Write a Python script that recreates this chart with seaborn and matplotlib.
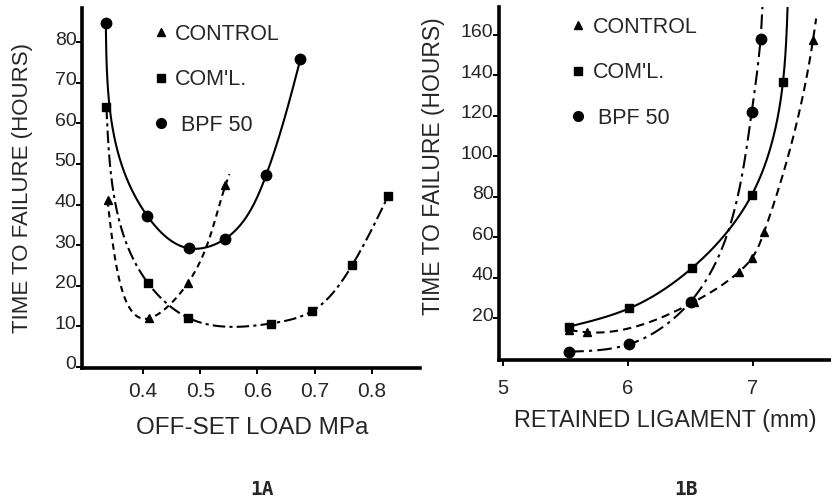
import numpy as np
import matplotlib
matplotlib.use("Agg")
import matplotlib.pyplot as plt
import matplotlib.transforms as mtransforms
from matplotlib.lines import Line2D
import seaborn as sns

# ---- data ----
# 1A : time to failure vs off-set load
load_control = [0.338, 0.411, 0.478, 0.544]
hrs_control_a = [41.0, 12.0, 20.6, 44.7]
load_coml = [0.336, 0.409, 0.479, 0.623, 0.696, 0.766, 0.828]
hrs_coml_a = [64.1, 20.6, 12.1, 10.7, 13.8, 25.2, 42.0]
load_bpf = [0.335, 0.407, 0.481, 0.544, 0.615, 0.675]
hrs_bpf_a = [84.6, 37.3, 29.2, 31.6, 47.2, 75.8]

# 1B : time to failure vs retained ligament
lig_control = [5.53, 5.67, 6.53, 6.89, 6.99, 7.09, 7.48]
hrs_control_b = [14.2, 13.1, 28.2, 43.0, 49.6, 62.8, 157.4]
lig_coml = [5.53, 6.01, 6.51, 6.99, 7.24]
hrs_coml_b = [15.9, 24.9, 44.7, 80.9, 136.8]
lig_bpf = [5.53, 6.01, 6.50, 6.99, 7.06]
hrs_bpf_b = [3.5, 7.2, 28.2, 122.0, 157.8]
# where the drawn curves run past the last point
tail_control_a = (0.551, 47.5)
tail_control_b = (7.505, 168.0)
tail_coml_b = (7.278, 176.0)
tail_bpf_b = (7.077, 176.0)

labels = ["CONTROL", "COM'L.", " BPF 50"]

XLIM_A, YLIM_A = (0.2934, 0.884), (-0.25, 88.4)
XLIM_B, YLIM_B = (4.968, 7.624), (-0.6, 173.7)


def nat_spline(t, v, ts):
    m = len(t)
    h = np.diff(t)
    A = np.zeros((m, m))
    b = np.zeros(m)
    A[0, 0] = A[-1, -1] = 1
    for i in range(1, m - 1):
        A[i, i - 1] = h[i - 1]
        A[i, i] = 2 * (h[i - 1] + h[i])
        A[i, i + 1] = h[i]
        b[i] = 3 * ((v[i + 1] - v[i]) / h[i] - (v[i] - v[i - 1]) / h[i - 1])
    c = np.linalg.solve(A, b)
    bb = (v[1:] - v[:-1]) / h - h * (2 * c[:-1] + c[1:]) / 3
    d = (c[1:] - c[:-1]) / (3 * h)
    k = np.clip(np.searchsorted(t, ts) - 1, 0, m - 2)
    dt = ts - t[k]
    return v[k] + bb[k] * dt + c[k] * dt ** 2 + d[k] * dt ** 3


def smooth(x, y, xlim, ylim, tail=None, n=400):
    # parametric spline through the read points, like the hand-drawn curves
    x = list(x)
    y = list(y)
    if tail is not None:
        x.append(tail[0])
        y.append(tail[1])
    u = (np.asarray(x) - xlim[0]) / (xlim[1] - xlim[0])
    w = (np.asarray(y) - ylim[0]) / (ylim[1] - ylim[0])
    t = np.concatenate([[0], np.cumsum(np.hypot(np.diff(u), np.diff(w)))])
    ts = np.linspace(0, t[-1], n)
    us = nat_spline(t, u, ts)
    ws = nat_spline(t, w, ts)
    return (xlim[0] + us * (xlim[1] - xlim[0]),
            ylim[0] + ws * (ylim[1] - ylim[0]))


sns.set_style("ticks")
plt.rcParams["font.family"] = ["Liberation Sans", "DejaVu Sans"]

fig = plt.figure(figsize=(8.31, 5), dpi=100)
ax1 = fig.add_axes([82 / 831, 1 - 368 / 500, 338 / 831, 360 / 500])
ax2 = fig.add_axes([499 / 831, 1 - 360 / 500, 332 / 831, 353 / 500])

lw = 1.5
st_a = {"CONTROL": (0, (3.0, 2.2)), "COM'L.": (0, (6, 2, 1.5, 2)), "BPF": "-"}
st_b = {"CONTROL": (0, (4, 2.5)), "COM'L.": "-", "BPF": (0, (7, 2.5, 1.5, 2.5))}

# panel 1A
for xv, yv, tail, key, mk, ms in [(load_control, hrs_control_a, tail_control_a, "CONTROL", "^", 6),
                                   (load_coml, hrs_coml_a, None, "COM'L.", "s", 6),
                                   (load_bpf, hrs_bpf_a, None, "BPF", "o", 7.5)]:
    xs, ys = smooth(xv, yv, XLIM_A, YLIM_A, tail)
    sns.lineplot(x=xs, y=ys, ax=ax1, color="black", lw=lw, linestyle=st_a[key],
                 sort=False, estimator=None)
    ax1.plot(xv, yv, linestyle="none", marker=mk, ms=ms, color="black")

# panel 1B
for xv, yv, tail, key, mk, ms in [(lig_control, hrs_control_b, tail_control_b, "CONTROL", "^", 6),
                                   (lig_coml, hrs_coml_b, tail_coml_b, "COM'L.", "s", 6),
                                   (lig_bpf, hrs_bpf_b, tail_bpf_b, "BPF", "o", 7.5)]:
    xs, ys = smooth(xv, yv, XLIM_B, YLIM_B, tail)
    sns.lineplot(x=xs, y=ys, ax=ax2, color="black", lw=lw, linestyle=st_b[key],
                 sort=False, estimator=None)
    ax2.plot(xv, yv, linestyle="none", marker=mk, ms=ms, color="black")

ax1.set_xlim(*XLIM_A)
ax1.set_ylim(*YLIM_A)
ax1.set_xticks([0.4, 0.5, 0.6, 0.7, 0.8])
ax1.set_yticks(range(0, 81, 10))
ax1.set_xticklabels(["0.4", "0.5", "0.6", "0.7", "0.8"])

ax2.set_xlim(*XLIM_B)
ax2.set_ylim(*YLIM_B)
ax2.set_xticks([5, 6, 7])
ax2.set_yticks(range(20, 161, 20))

for ax, fs, xpad in [(ax1, 15, 6), (ax2, 14.5, 10)]:
    sns.despine(ax=ax)
    for s in ["left", "bottom"]:
        ax.spines[s].set_linewidth(2.6)
        ax.spines[s].set_color("black")
    ax.tick_params(axis="both", direction="out", length=4, width=1.4, color="black")
    ax.tick_params(axis="y", labelsize=14, pad=0)
    ax.tick_params(axis="x", labelsize=fs, pad=xpad)
    ax.set_xlabel("")
    ax.set_ylabel("")
    off = mtransforms.ScaledTranslation(0, 4 / 100, fig.dpi_scale_trans)
    for t in ax.get_yticklabels():
        t.set_transform(t.get_transform() + off)

    handles = [Line2D([], [], ls="none", marker="^", ms=5.5, color="black"),
               Line2D([], [], ls="none", marker="s", ms=5.5, color="black"),
               Line2D([], [], ls="none", marker="o", ms=7, color="black")]
    ax.legend(handles, labels, loc="upper left", frameon=False, fontsize=15.5,
              bbox_to_anchor=(0.215, 0.956) if ax is ax1 else (0.22, 0.973),
              borderpad=0, borderaxespad=0, handlelength=0.6, handletextpad=0.35,
              labelspacing=1.14)

fig.text(23 / 831, 1 - 188 / 500, "TIME TO FAILURE (HOURS)", rotation=90,
         ha="center", va="center", fontsize=16)
fig.text(433 / 831, 1 - 166 / 500, "TIME TO FAILURE (HOURS)", rotation=90,
         ha="center", va="center", fontsize=16.5)
fig.text(252 / 831, 1 - 428 / 500, "OFF-SET LOAD MPa", ha="center", va="center",
         fontsize=17.5)
fig.text(665 / 831, 1 - 420 / 500, "RETAINED LIGAMENT (mm)", ha="center", va="center",
         fontsize=16.8)
fig.text(261.5 / 831, 1 - 489.5 / 500, "1A", ha="center", va="center", fontsize=14,
         family="DejaVu Sans Mono", weight="bold")
fig.text(685.5 / 831, 1 - 489.5 / 500, "1B", ha="center", va="center", fontsize=14,
         family="DejaVu Sans Mono", weight="bold")

fig.savefig("out.png", dpi=100)
